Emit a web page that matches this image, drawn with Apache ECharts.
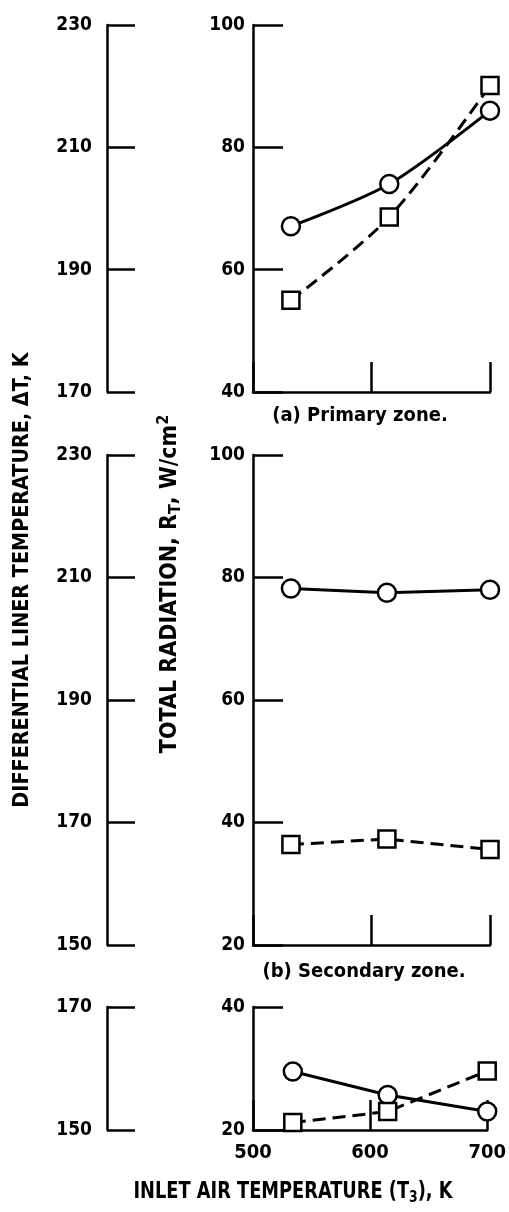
<!DOCTYPE html>
<html>
<head>
<meta charset="utf-8">
<script src="https://cdn.jsdelivr.net/npm/echarts@6/dist/echarts.min.js"></script>
<style>
  html, body { margin: 0; padding: 0; background: #fff; }
  #char { width: 509px; height: 1212px; }
</style>
</head>
<body>
<div id="char"></div>
<script>
// inlet air temperature, K (x positions read per panel)
var xPrimary = [532, 615, 700];
var xSecondary = [532, 613, 700];
var xThird = [534, 615, 700];

// total radiation R_T, W/cm2
var primaryCircle = [67.1, 74.0, 86.0];
var primarySquare = [55.0, 68.6, 90.1];
var secondaryCircle = [78.2, 77.5, 78.0];
var secondarySquare = [36.4, 37.3, 35.6];
var thirdCircle = [29.5, 25.7, 23.0];
var thirdSquare = [21.2, 23.0, 29.6];

// axis ranges
var xTicks = [500, 600, 700];
var leftRanges = [[170, 230], [150, 230], [150, 170]];
var rightRanges = [[40, 100], [20, 100], [20, 40]];
var captions = ['(a) Primary zone.', '(b) Secondary zone.'];

var FONT = '"DejaVu Sans Condensed", "DejaVu Sans", sans-serif';

function pairs(xs, ys) {
  var out = [];
  for (let i = 0; i < xs.length; i++) out.push([xs[i], ys[i]]);
  return out;
}

// panel boxes, px
var panels = [
  { top: 25, height: 367 },
  { top: 455, height: 490 },
  { top: 1007, height: 123 }
];

var labelStyle = { color: '#000', fontFamily: FONT, fontSize: 19, fontWeight: 'bold' };

var grids = [], xAxes = [], yAxes = [], series = [];
panels.forEach(function (p, i) {
  // left: bare temperature scale
  grids.push({ left: 107, width: 28, top: p.top, height: p.height });
  // right: radiation plot
  grids.push({ left: 253, width: 237, top: p.top, height: p.height });

  xAxes.push({
    gridIndex: 2 * i, type: 'value', min: 0, max: 1, show: false
  });
  xAxes.push({
    gridIndex: 2 * i + 1, type: 'value', min: xTicks[0], max: xTicks[2], interval: 100,
    axisLine: { show: true, lineStyle: { color: '#000', width: 2.5 } },
    axisTick: { show: true, inside: true, length: 30, lineStyle: { color: '#000', width: 2.5 } },
    axisLabel: Object.assign({ show: i === 2, margin: 13, fontSize: 20 }, { color: '#000', fontFamily: FONT, fontWeight: 'bold' }),
    splitLine: { show: false }
  });

  yAxes.push({
    gridIndex: 2 * i, type: 'value', min: leftRanges[i][0], max: leftRanges[i][1], interval: 20,
    axisLine: { show: true, lineStyle: { color: '#000', width: 2.5 } },
    axisTick: { show: true, inside: true, length: 28, lineStyle: { color: '#000', width: 2.5 } },
    axisLabel: Object.assign({ margin: 15 }, labelStyle),
    splitLine: { show: false }
  });
  yAxes.push({
    gridIndex: 2 * i + 1, type: 'value', min: rightRanges[i][0], max: rightRanges[i][1], interval: 20,
    axisLine: { show: true, lineStyle: { color: '#000', width: 2.5 } },
    axisTick: { show: true, inside: true, length: 30, lineStyle: { color: '#000', width: 2.5 } },
    axisLabel: Object.assign({ margin: 8 }, labelStyle),
    splitLine: { show: false }
  });
});

function lineSeries(idx, data, symbol, dashed, smooth) {
  return {
    type: 'line',
    xAxisIndex: idx, yAxisIndex: idx,
    data: data,
    symbol: symbol,
    symbolSize: symbol === 'rect' ? 17 : 18,
    smooth: smooth,
    showAllSymbol: true,
    itemStyle: { color: '#fff', borderColor: '#000', borderWidth: 2.5 },
    lineStyle: { color: '#000', width: 3, type: dashed ? [13, 7] : 'solid' },
    emphasis: { disabled: true },
    animation: false
  };
}

series.push(lineSeries(1, pairs(xPrimary, primaryCircle), 'circle', false, 0.3));
series.push(lineSeries(1, pairs(xPrimary, primarySquare), 'rect', true, 0.3));
series.push(lineSeries(3, pairs(xSecondary, secondaryCircle), 'circle', false, false));
series.push(lineSeries(3, pairs(xSecondary, secondarySquare), 'rect', true, false));
series.push(lineSeries(5, pairs(xThird, thirdCircle), 'circle', false, false));
series.push(lineSeries(5, pairs(xThird, thirdSquare), 'rect', true, false));

function rich(size) {
  var sub = Math.round(size * 0.68);
  return {
    t: { fontFamily: FONT, fontSize: size, fontWeight: 'bold', color: '#000' },
    s: { fontFamily: FONT, fontSize: sub, fontWeight: 'bold', color: '#000', padding: [Math.round(size * 0.5), 0, 0, 0] },
    p: { fontFamily: FONT, fontSize: sub, fontWeight: 'bold', color: '#000', padding: [0, 0, Math.round(size * 0.5), 0] }
  };
}

var option = {
  backgroundColor: '#fff',
  animation: false,
  grid: grids,
  xAxis: xAxes,
  yAxis: yAxes,
  series: series,
  graphic: [
    { type: 'text', x: 360, y: 416, style: { text: captions[0], align: 'center', verticalAlign: 'middle', fill: '#000', font: 'bold 20px ' + FONT } },
    { type: 'text', x: 364, y: 972, style: { text: captions[1], align: 'center', verticalAlign: 'middle', fill: '#000', font: 'bold 20px ' + FONT } },
    {
      type: 'text', x: 22, y: 580, rotation: Math.PI / 2, scaleX: 0.97,
      style: { text: 'DIFFERENTIAL LINER TEMPERATURE, \u0394T, K', align: 'center', verticalAlign: 'middle', fill: '#000', font: 'bold 22px ' + FONT }
    },
    {
      type: 'text', x: 170, y: 584, rotation: Math.PI / 2,
      style: {
        text: '{t|TOTAL RADIATION, R}{s|T}{t|, W/cm}{p|2}',
        align: 'center', verticalAlign: 'middle',
        rich: rich(23)
      }
    },
    {
      type: 'text', x: 293, y: 1192, scaleX: 0.86,
      style: {
        text: '{t|INLET AIR TEMPERATURE (T}{s|3}{t|), K}',
        align: 'center', verticalAlign: 'middle',
        rich: rich(23)
      }
    }
  ]
};

var myChart = echarts.init(document.getElementById('char'));
myChart.setOption(option);
</script>
</body>
</html>
